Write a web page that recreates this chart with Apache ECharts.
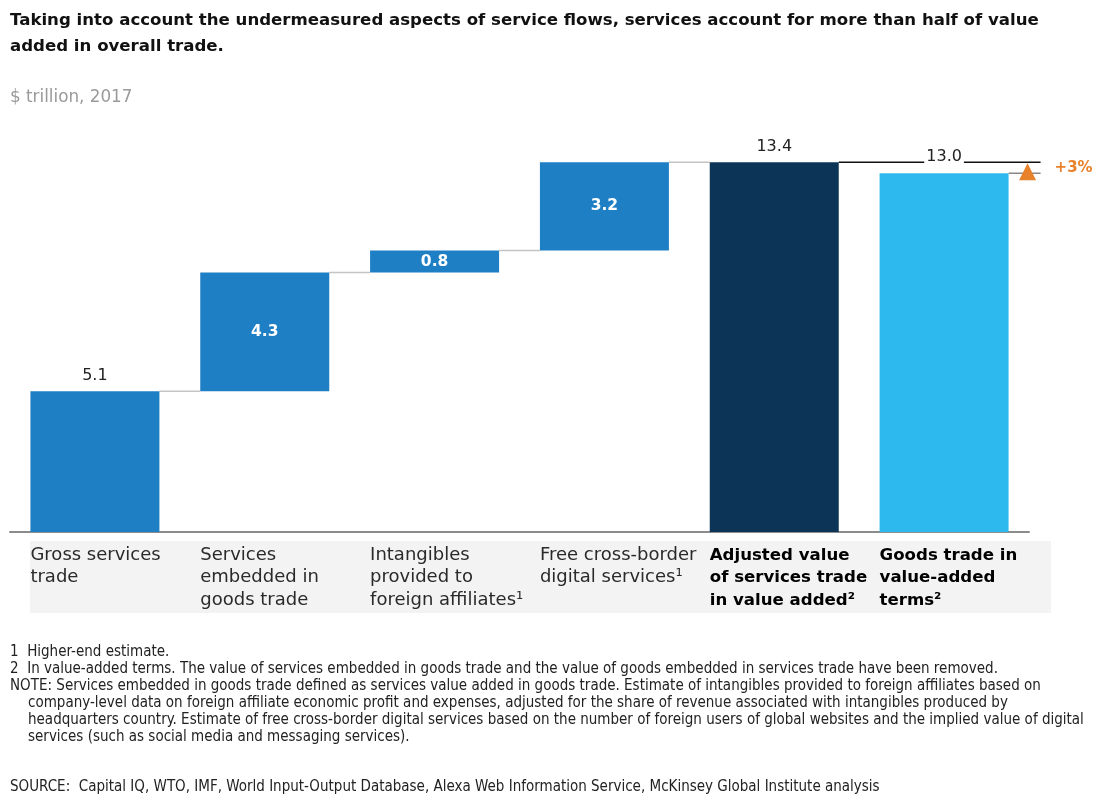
<!DOCTYPE html>
<html><head><meta charset="utf-8">
<script src="https://cdn.jsdelivr.net/npm/echarts@6/dist/echarts.min.js"></script>
<style>html,body{margin:0;padding:0;background:#fff}#c{width:1096px;height:794px}</style>
</head><body><div id="c"></div>
<script>
// ---- data ----
const categories = [
  'Gross services\ntrade',
  'Services\nembedded in\ngoods trade',
  'Intangibles\nprovided to\nforeign affiliates¹',
  'Free cross-border\ndigital services¹',
  'Adjusted value\nof services trade\nin value added²',
  'Goods trade in\nvalue-added\nterms²'
];
const barValues = [5.1, 4.3, 0.8, 3.2, 13.4, 13.0];
const barKinds = ['step', 'step', 'step', 'step', 'total', 'goods'];
const titleText = 'Taking into account the undermeasured aspects of service flows, services account for more than half of value\nadded in overall trade.';
const unitText = '$ trillion, 2017';
const footLines = [
  '1  Higher-end estimate.',
  '2  In value-added terms. The value of services embedded in goods trade and the value of goods embedded in services trade have been removed.',
  'NOTE: Services embedded in goods trade defined as services value added in goods trade. Estimate of intangibles provided to foreign affiliates based on'
];
const noteCont = [
  'company-level data on foreign affiliate economic profit and expenses, adjusted for the share of revenue associated with intangibles produced by',
  'headquarters country. Estimate of free cross-border digital services based on the number of foreign users of global websites and the implied value of digital',
  'services (such as social media and messaging services).'
];
const sourceText = 'SOURCE:  Capital IQ, WTO, IMF, World Input-Output Database, Alexa Web Information Service, McKinsey Global Institute analysis';

// ---- derived ----
const colors = { step: '#1f7fc4', total: '#0b3456', goods: '#2db9ee' };
const bases = [];
const tops = [];
let run = 0;
barValues.forEach((v, i) => {
  if (barKinds[i] === 'step') { bases.push(run); run += v; tops.push(run); }
  else { bases.push(0); tops.push(v); }
});
const connectors = [];
for (let i = 0; i < 4; i++) connectors.push([i, tops[i]]);
const totalIdx = barKinds.indexOf('total');
const goodsIdx = barKinds.indexOf('goods');
const pct = Math.round((barValues[totalIdx] - barValues[goodsIdx]) / barValues[goodsIdx] * 100);

const BAR_W = 129;
const HALF = BAR_W / 2;
const WIDE = '"DejaVu Sans", Verdana, sans-serif';
const COND = '"DejaVu Sans Condensed", "Liberation Sans Narrow", "Liberation Sans", sans-serif';

const chart = echarts.init(document.getElementById('c'), null, { renderer: 'canvas' });

const barData = barValues.map((v, i) => {
  const k = barKinds[i];
  let label;
  if (k === 'goods') label = { show: false };
  else if (i === 0 || k === 'total') label = { show: true, position: 'top', distance: 7, color: '#222', fontSize: 16, fontFamily: WIDE, formatter: (p) => p.value.toFixed(1) };
  else label = { show: true, position: 'inside', color: '#fff', fontSize: 15.5, fontWeight: 'bold', fontFamily: WIDE, formatter: (p) => p.value.toFixed(1) };
  return { value: v, itemStyle: { color: colors[k] }, label };
});

const option = {
  animation: false,
  backgroundColor: '#fff',
  title: [
    { text: titleText, left: 10, top: 8, padding: 0, textStyle: { fontSize: 16.6, fontWeight: 'bold', color: '#111', fontFamily: WIDE, lineHeight: 26 } },
    { text: unitText, left: 10, top: 89, padding: 0, textStyle: { fontSize: 16.8, fontWeight: 'normal', color: '#9a9a9a', fontFamily: WIDE, lineHeight: 18 } },
    { text: footLines.join('\n'), left: 10, top: 643.5, padding: 0, textStyle: { fontSize: 15, fontWeight: 'normal', color: '#222', fontFamily: COND, lineHeight: 17 } },
    { text: noteCont.join('\n'), left: 28, top: 694.5, padding: 0, textStyle: { fontSize: 15, fontWeight: 'normal', color: '#222', fontFamily: COND, lineHeight: 17 } },
    { text: sourceText, left: 10, top: 779, padding: 0, textStyle: { fontSize: 15, fontWeight: 'normal', color: '#222', fontFamily: COND, lineHeight: 16 } }
  ],
  graphic: [
    { type: 'rect', z: -10, shape: { x: 30, y: 541, width: 1021, height: 72 }, style: { fill: '#f3f3f3' } }
  ],
  grid: { left: 10, right: 67, top: 118, bottom: 262, containLabel: false },
  xAxis: {
    type: 'category',
    data: categories,
    axisLine: { show: true, lineStyle: { color: '#8c8c8c', width: 2 } },
    axisTick: { show: false },
    axisLabel: {
      interval: 0,
      margin: 12,
      align: 'center',
      verticalAlign: 'top',
      formatter: (val, idx) => {
        const st = barKinds[idx] === 'step' ? 'n' : 'b';
        return val.split('\n').map(l => '{' + st + '|' + l + '}').join('\n');
      },
      rich: {
        n: { width: BAR_W, align: 'left', fontSize: 18, lineHeight: 22.5, color: '#2a2a2a', fontFamily: WIDE },
        b: { width: BAR_W, align: 'left', fontSize: 16.6, lineHeight: 22.5, color: '#000', fontWeight: 'bold', fontFamily: WIDE }
      }
    }
  },
  yAxis: { type: 'value', min: 0, max: 15, show: false, splitLine: { show: false } },
  series: [
    { type: 'bar', stack: 'w', data: bases, barWidth: BAR_W, itemStyle: { color: 'transparent' }, silent: true },
    { type: 'bar', stack: 'w', data: barData, barWidth: BAR_W },
    {
      type: 'custom', data: connectors, silent: true, z: 1,
      renderItem: (params, api) => {
        const i = api.value(0), lvl = api.value(1);
        const a = api.coord([i, lvl]);
        const b = api.coord([i + 1, lvl]);
        return { type: 'line', shape: { x1: a[0] + HALF, y1: a[1], x2: b[0] - HALF, y2: b[1] }, style: { stroke: '#c4c4c4', lineWidth: 1.5 } };
      }
    },
    {
      type: 'custom', data: [[goodsIdx, barValues[totalIdx], barValues[goodsIdx]]], silent: true, z: 3,
      renderItem: (params, api) => {
        const gi = api.value(0), hi = api.value(1), lo = api.value(2);
        const t = api.coord([gi - 1, hi]);
        const g = api.coord([gi, hi]);
        const gl = api.coord([gi, lo]);
        const right = g[0] + HALF;
        const end = right + 32;
        const tx = right + 19;
        return {
          type: 'group',
          children: [
            { type: 'line', shape: { x1: t[0] + HALF, y1: t[1], x2: end, y2: t[1] }, style: { stroke: '#111', lineWidth: 1.5 } },
            { type: 'line', shape: { x1: right, y1: gl[1], x2: end, y2: gl[1] }, style: { stroke: '#888', lineWidth: 1.5 } },
            { type: 'text', x: g[0], y: t[1] + 3, style: { text: lo.toFixed(1), fill: '#222', font: '16px ' + WIDE, align: 'center', verticalAlign: 'bottom', backgroundColor: '#fff', padding: [0, 2, 0, 2] } },
            { type: 'polygon', shape: { points: [[tx, t[1] + 1], [tx - 8.5, gl[1] + 7], [tx + 8.5, gl[1] + 7]] }, style: { fill: '#e8812b' } },
            { type: 'text', x: end + 14, y: (t[1] + gl[1]) / 2, style: { text: '+' + pct + '%', fill: '#e8812b', font: 'bold 15px ' + WIDE, align: 'left', verticalAlign: 'middle' } }
          ]
        };
      }
    }
  ]
};
chart.setOption(option);
</script>
</body></html>
